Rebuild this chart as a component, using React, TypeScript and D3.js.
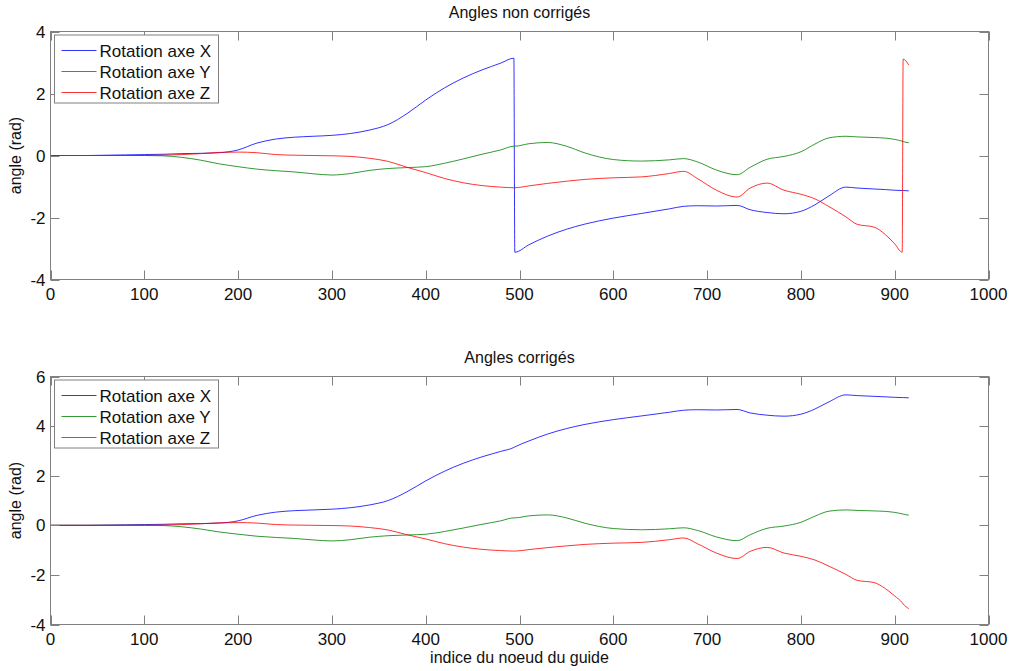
import React from 'react';
import * as d3 from 'd3';

// ---- data ----
const nodeIndex = [0, 20, 40, 60, 80, 100, 120, 140, 160, 180, 200, 220, 240, 260, 280, 300, 320, 340, 360, 380, 400, 420, 440, 460, 480, 494, 495, 510, 530, 550, 570, 600, 630, 660, 675, 690, 710, 732, 746, 764, 782, 800, 815, 830, 848, 860, 878, 890, 900, 908, 909, 915];

const rotXRaw = [0, 0, 0, 0.01, 0.02, 0.03, 0.04, 0.06, 0.07, 0.09, 0.18, 0.4, 0.53, 0.59, 0.62, 0.65, 0.71, 0.82, 1.0, 1.35, 1.79, 2.18, 2.5, 2.76, 2.98, 3.14, -3.12, -2.88, -2.6, -2.38, -2.21, -2.02, -1.87, -1.72, -1.64, -1.62, -1.63, -1.61, -1.75, -1.84, -1.88, -1.8, -1.59, -1.3, -1.02, -1.05, -1.08, -1.1, -1.12, -1.13, -1.13, -1.14];

const rotY = [0, 0, 0, 0, 0, 0, -0.01, -0.06, -0.15, -0.27, -0.36, -0.44, -0.49, -0.53, -0.59, -0.63, -0.58, -0.48, -0.42, -0.39, -0.36, -0.25, -0.11, 0.04, 0.18, 0.3, 0.3, 0.38, 0.42, 0.3, 0.08, -0.13, -0.18, -0.14, -0.1, -0.21, -0.47, -0.62, -0.38, -0.12, -0.03, 0.12, 0.37, 0.57, 0.62, 0.6, 0.58, 0.56, 0.52, 0.46, 0.45, 0.41];

const rotZRaw = [0, 0, 0, 0, 0, 0, 0.01, 0.03, 0.06, 0.1, 0.11, 0.09, 0.03, 0.01, 0, -0.01, -0.03, -0.09, -0.19, -0.38, -0.55, -0.74, -0.88, -0.97, -1.02, -1.04, -1.04, -0.98, -0.9, -0.83, -0.77, -0.72, -0.69, -0.58, -0.51, -0.75, -1.12, -1.34, -1.05, -0.89, -1.12, -1.25, -1.4, -1.65, -1.98, -2.22, -2.31, -2.55, -2.85, -3.12, 3.11, 2.92];

const rotXCorr = [0, 0, 0, 0.01, 0.02, 0.03, 0.04, 0.06, 0.07, 0.09, 0.18, 0.4, 0.53, 0.59, 0.62, 0.65, 0.71, 0.82, 1.0, 1.35, 1.79, 2.18, 2.5, 2.76, 2.98, 3.14, 3.16, 3.4, 3.68, 3.9, 4.07, 4.26, 4.41, 4.56, 4.64, 4.66, 4.65, 4.67, 4.53, 4.44, 4.4, 4.48, 4.69, 4.98, 5.26, 5.23, 5.2, 5.18, 5.16, 5.15, 5.15, 5.14];

const rotZCorr = [0, 0, 0, 0, 0, 0, 0.01, 0.03, 0.06, 0.1, 0.11, 0.09, 0.03, 0.01, 0, -0.01, -0.03, -0.09, -0.19, -0.38, -0.55, -0.74, -0.88, -0.97, -1.02, -1.04, -1.04, -0.98, -0.9, -0.83, -0.77, -0.72, -0.69, -0.58, -0.51, -0.75, -1.12, -1.34, -1.05, -0.89, -1.12, -1.25, -1.4, -1.65, -1.98, -2.22, -2.31, -2.55, -2.85, -3.12, -3.17, -3.36];

const xTicks = [0, 100, 200, 300, 400, 500, 600, 700, 800, 900, 1000];
const yTicksTop = [-4, -2, 0, 2, 4];
const yTicksBottom = [-4, -2, 0, 2, 4, 6];
const seriesNames = ['Rotation axe X', 'Rotation axe Y', 'Rotation axe Z'];
const seriesColors = ['#0000ff', '#008000', '#ff0000'];

const FONT = '"Liberation Sans", Arial, Helvetica, sans-serif';
const FS = 17;
const AXIS_COLOR = '#808080';
const TICK_LEN = 9;

type PanelProps = {
  top: number;
  bottom: number;
  yDomain: [number, number];
  yTicks: number[];
  title: string;
  series: number[][];
  xLabel?: string;
};

const LEFT = 50.5;
const RIGHT = 988.5;

function Panel({ top, bottom, yDomain, yTicks, title, series, xLabel }: PanelProps) {
  const x = d3.scaleLinear().domain([0, 1000]).range([LEFT, RIGHT]);
  const y = d3.scaleLinear().domain(yDomain).range([bottom, top]);
  const line = d3
    .line<number>()
    .x((_, i) => x(nodeIndex[i]))
    .y((d) => y(d))
    .curve(d3.curveMonotoneX);

  const legX = LEFT + 4;
  const legY = top + 3.5;
  const legW = 164;
  const legH = 68;
  const rowH = 21;

  return (
    <g>
      <text x={(LEFT + RIGHT) / 2} y={top - 13.5} textAnchor="middle" fontSize={FS - 1} fontFamily={FONT} fill="#111">
        {title}
      </text>
      <g>
        {series.map((s, k) => (
          <path key={k} d={line(s) || ''} fill="none" stroke={seriesColors[k]} strokeWidth={1} strokeOpacity={0.8} />
        ))}
      </g>
      <rect x={LEFT} y={top} width={RIGHT - LEFT} height={bottom - top} fill="none" stroke={AXIS_COLOR} strokeWidth={1} />
      {xTicks.map((t) => (
        <g key={'x' + t}>
          <line x1={Math.round(x(t)) + 0.5} x2={Math.round(x(t)) + 0.5} y1={bottom} y2={bottom - TICK_LEN} stroke={AXIS_COLOR} />
          <line x1={Math.round(x(t)) + 0.5} x2={Math.round(x(t)) + 0.5} y1={top} y2={top + TICK_LEN} stroke={AXIS_COLOR} />
          <text x={x(t)} y={bottom + 20} textAnchor="middle" fontSize={FS} fontFamily={FONT} fill="#111">
            {t}
          </text>
        </g>
      ))}
      {yTicks.map((t) => (
        <g key={'y' + t}>
          <line x1={LEFT} x2={LEFT + TICK_LEN} y1={Math.round(y(t)) + 0.5} y2={Math.round(y(t)) + 0.5} stroke={AXIS_COLOR} />
          <line x1={RIGHT} x2={RIGHT - TICK_LEN} y1={Math.round(y(t)) + 0.5} y2={Math.round(y(t)) + 0.5} stroke={AXIS_COLOR} />
          <text x={LEFT - 5} y={y(t)} dy="0.36em" textAnchor="end" fontSize={FS} fontFamily={FONT} fill="#111">
            {t}
          </text>
        </g>
      ))}
      <text
        transform={`translate(20.5,${(top + bottom) / 2}) rotate(-90)`}
        textAnchor="middle"
        fontSize={FS - 1}
        fontFamily={FONT}
        fill="#111"
      >
        angle (rad)
      </text>
      {xLabel && (
        <text x={(LEFT + RIGHT) / 2} y={bottom + 38} textAnchor="middle" fontSize={FS - 1} fontFamily={FONT} fill="#111">
          {xLabel}
        </text>
      )}
      <rect x={legX} y={legY} width={legW} height={legH} fill="#fff" stroke={AXIS_COLOR} strokeWidth={1} />
      {seriesNames.map((n, k) => {
        const cy = legY + 15.5 + k * rowH;
        return (
          <g key={n}>
            <line x1={legX + 7} x2={legX + 42} y1={cy} y2={cy} stroke={seriesColors[k]} strokeOpacity={0.8} strokeWidth={1} />
            <text x={legX + 45} y={cy} dy="0.36em" fontSize={FS} fontFamily={FONT} fill="#111">
              {n}
            </text>
          </g>
        );
      })}
    </g>
  );
}

export default function App() {
  return (
    <svg
      width={1011}
      height={671}
      viewBox="0 0 1011 671"
      style={{ position: 'absolute', left: 0, top: 0, background: '#fff' }}
    >
      <rect x={0} y={0} width={1011} height={671} fill="#fff" />
      <Panel
        top={31.5}
        bottom={279.5}
        yDomain={[-4, 4]}
        yTicks={yTicksTop}
        title="Angles non corrigés"
        series={[rotXRaw, rotY, rotZRaw]}
      />
      <Panel
        top={376.5}
        bottom={624.5}
        yDomain={[-4, 6]}
        yTicks={yTicksBottom}
        title="Angles corrigés"
        series={[rotXCorr, rotY, rotZCorr]}
        xLabel="indice du noeud du guide"
      />
    </svg>
  );
}
